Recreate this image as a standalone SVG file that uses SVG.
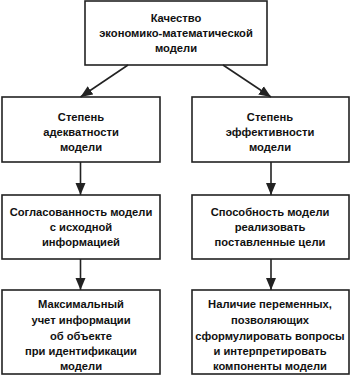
<svg xmlns="http://www.w3.org/2000/svg" width="351" height="376" viewBox="0 0 351 376">
<style>
rect.box{fill:#fff;stroke:#222;stroke-width:1.6}
text{font-family:"Liberation Sans",Arial,sans-serif;font-weight:bold;font-size:11.2px;fill:#111;text-anchor:middle}
.conn line{stroke:#222;stroke-width:1.6}
</style>
<defs>
<marker id="ah" markerWidth="12" markerHeight="12" viewBox="0 0 12 10" refX="12" refY="5" orient="auto" markerUnits="userSpaceOnUse">
<path d="M0,0 L12,5 L0,10 Z" fill="#222"/>
</marker>
</defs>
<rect width="351" height="376" fill="#fff"/>
<g id="n1"><rect class="box" x="85" y="1" width="182" height="64"/>
<text x="176" y="22">Качество</text><text x="176" y="37">экономико-математической</text><text x="176" y="52">модели</text></g>
<g id="n2"><rect class="box" x="2" y="97" width="158" height="65"/>
<text x="81" y="121">Степень</text><text x="81" y="136">адекватности</text><text x="81" y="151">модели</text></g>
<g id="n3"><rect class="box" x="192" y="97" width="157" height="65"/>
<text x="270" y="121">Степень</text><text x="270" y="136">эффективности</text><text x="270" y="151">модели</text></g>
<g id="n4"><rect class="box" x="2" y="195" width="158" height="64"/>
<text x="81" y="216">Согласованность модели</text><text x="81" y="231">с исходной</text><text x="81" y="246">информацией</text></g>
<g id="n5"><rect class="box" x="192" y="195" width="157" height="64"/>
<text x="270" y="216">Способность модели</text><text x="270" y="231">реализовать</text><text x="270" y="246">поставленные цели</text></g>
<g id="n6"><rect class="box" x="2" y="290" width="158" height="84"/>
<text x="81" y="308">Максимальный</text><text x="81" y="324">учет информации</text><text x="81" y="340">об объекте</text><text x="81" y="355">при идентификации</text><text x="81" y="370">модели</text></g>
<g id="n7"><rect class="box" x="192" y="290" width="157" height="84"/>
<text x="270" y="308">Наличие переменных,</text><text x="270" y="324">позволяющих</text><text x="270" y="340">сформулировать вопросы</text><text x="270" y="355">и интерпретировать</text><text x="270" y="370">компоненты модели</text></g>
<g class="conn" id="connectors">
<line x1="128" y1="65" x2="80.5" y2="97" marker-end="url(#ah)"/>
<line x1="223" y1="65" x2="271" y2="97" marker-end="url(#ah)"/>
<line x1="80.5" y1="162" x2="80.5" y2="195" marker-end="url(#ah)"/>
<line x1="271" y1="162" x2="271" y2="195" marker-end="url(#ah)"/>
<line x1="80.5" y1="259" x2="80.5" y2="290" marker-end="url(#ah)"/>
<line x1="271" y1="259" x2="271" y2="290" marker-end="url(#ah)"/>
</g>
</svg>
